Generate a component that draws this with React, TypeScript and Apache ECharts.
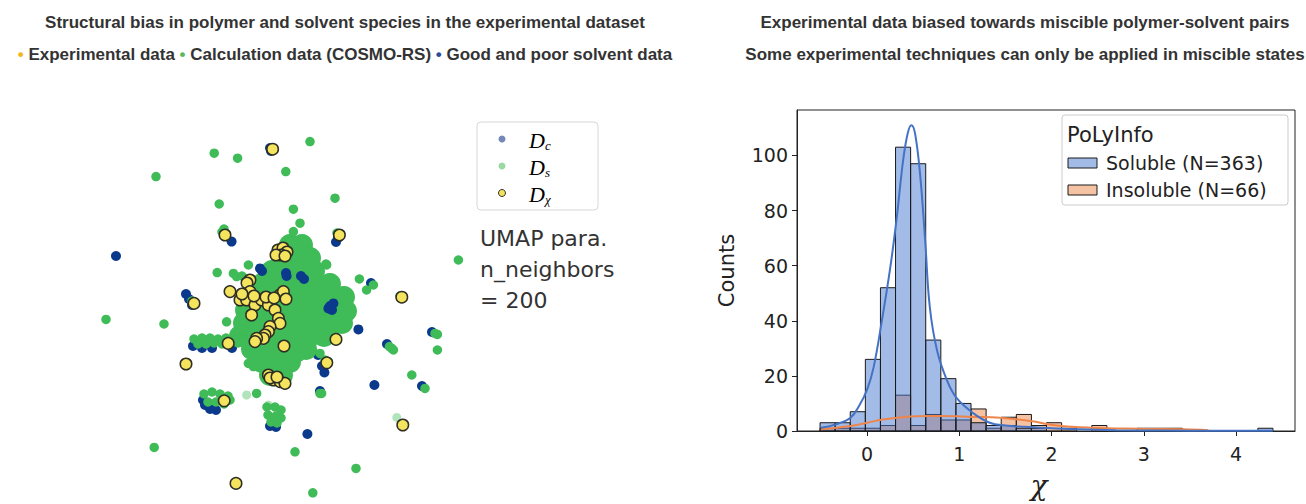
import React, { useEffect, useRef } from "react";
import * as echarts from "echarts";

// ---------------- Left panel: UMAP embedding (arbitrary units) ----------------
// D_c : good and poor solvent data (drawn behind)
const dcPoints: number[][] = [
  [-8.2, 2.2], [4.72, -4.25], [2.22, -3.62], [1.37, -6.7], [7.1, -4.3], [3.92, -1.47],
  [2.9, 3.1], [2.8, 2.9], [-4.7, 0.3], [-4.55, 0.05], [-4.4, -0.25], [-3.85, -5.0],
  [-3.75, -5.25], [-3.5, -5.45], [-3.2, -5.5], [-0.5, -6.3], [-0.2, -6.35], [-0.5, 7.6],
  [-0.45, 7.45], [3.35, -0.1], [3.45, -0.4], [1.5, -2.6], [1.9, -2.75], [7.6, -1.6],
  [5.35, -2.2], [2.0, -4.55], [4.55, 0.85], [2.17, -1.67], [2.1, -3.3], [-2.42, 2.92],
  [-4.35, -2.3], [-3.9, -2.4], [-3.4, -2.4], [-2.4, -2.4], [2.67, -1.0],
];
// D_c patches visible inside the dense region
const dcFrontPoints: number[][] = [
  [-1.0, 1.58], [-0.9, 1.45], [0.3, 1.35], [0.33, 1.2], [1.05, 1.2], [1.2, 1.05],
  [2.42, -0.42], [2.67, -0.17], [2.5, -0.3], [2.6, -0.5],
];
// D_s : dense core of COSMO-RS calculation data
const dsCorePoints: number[][] = [
  [0.5, 2.75], [1.1, 2.75],
  [0.1, 2.1], [0.8, 2.1], [1.5, 2.1],
  [-0.4, 1.45], [0.3, 1.45], [1.0, 1.45], [1.7, 1.45],
  [-0.9, 0.8], [-0.2, 0.8], [0.5, 0.8], [1.2, 0.8], [1.9, 0.8], [2.5, 0.8],
  [-1.5, 0.15], [-0.8, 0.15], [-0.1, 0.15], [0.6, 0.15], [1.3, 0.15], [2.0, 0.15], [2.7, 0.15], [3.2, 0.15],
  [-1.7, -0.5], [-1.0, -0.5], [-0.3, -0.5], [0.4, -0.5], [1.1, -0.5], [1.8, -0.5], [2.5, -0.5], [3.3, -0.55],
  [-1.8, -1.15], [-1.1, -1.15], [-0.4, -1.15], [0.3, -1.15], [1.0, -1.15], [1.7, -1.15], [2.4, -1.15], [3.1, -1.15],
  [-2.0, -1.8], [-1.3, -1.8], [-0.6, -1.8], [0.1, -1.8], [0.8, -1.8], [1.5, -1.8], [2.2, -1.8],
  [-1.4, -2.45], [-0.7, -2.45], [0.0, -2.45], [0.7, -2.45], [1.3, -2.45],
  [-0.9, -3.1], [-0.2, -3.1], [0.5, -3.1],
  [-0.5, -3.75], [0.1, -3.75],
];
// D_s : individual COSMO-RS points
const dsPoints: number[][] = [
  [1.5, 7.92], [-3.29, 7.34], [-2.12, 7.09], [-6.2, 6.17], [0.29, 6.42], [2.75, 5.09],
  [-3.04, 4.8], [0.67, 4.54], [1.0, 3.84], [8.92, 2.0], [-8.7, -0.97], [-5.8, -1.2],
  [-2.67, -1.09], [3.97, 1.05], [6.59, -3.75], [7.87, -2.5], [7.87, -1.72], [5.59, -2.42],
  [7.25, -4.42], [2.0, -4.67], [-6.29, -7.37], [0.75, -7.59], [3.8, -8.42], [1.64, -9.64],
  [-3.14, 1.37], [2.3, 1.8], [4.67, 0.75], [-1.17, -4.67], [0.67, 3.42],
  [-1.58, 1.75], [-2.17, 1.17], [-1.9, 1.2], [-2.33, 1.33], [2.33, 1.75], [2.75, 0.83],
  [1.33, -2.67], [1.0, -2.83], [2.0, -2.67], [2.42, -3.08], [0.67, -3.0], [-0.58, -2.92],
  [-1.33, -2.67], [-1.58, -3.17], [-1.33, -3.33], [0, -2.83], [-0.33, -3.17], [-2.83, -2.08],
  [4.33, 0.5], [5.47, -2.33], [5.67, -2.5], [2.08, -4.67], [7.75, -1.67],
  [-2.9, 3.4], [-2.8, 3.55], [-4.4, -0.05], [2.85, 3.35], [6.0, 0.2], [2.55, -1.8], [2.75, -1.75], [2.25, -3.0],
  [-3.8, -4.7], [-3.4, -4.6], [-3.0, -4.7], [-2.6, -4.8], [-3.6, -5.1], [-3.2, -5.1], [-2.8, -5.2], [-2.5, -5.0],
  [-0.65, -5.35], [-0.25, -5.35], [0.05, -5.5], [-0.6, -5.75], [-0.2, -5.8], [0.05, -5.9], [-0.45, -6.1], [-0.15, -6.15],
  [-4.3, -1.95], [-3.9, -1.9], [-3.5, -1.9], [-3.1, -1.95], [-2.7, -1.9], [-2.3, -1.95],
  [-4.1, -2.2], [-3.7, -2.2], [-3.3, -2.15], [-2.9, -2.2], [-2.5, -2.2], [-2.1, -2.15],
];
// D_s : sparse (faint) points
const dsLightPoints: number[][] = [
  [-1.67, -4.75], [-0.58, -5.25], [5.84, -5.87], [-1.83, -1.75],
];
// D_chi : experimental data
const dxPoints: number[][] = [
  [-0.37, 7.54], [-2.75, 3.25], [2.97, 3.25], [6.09, 0.14], [-4.3, -0.17], [-4.7, -3.2],
  [-2.79, -5.04], [6.14, -6.25], [-2.2, -9.17], [2.8, -1.97], [2.34, -3.14], [-2.59, -2.17], [0.2, -2.3],
  [-0.1, 2.5], [0.15, 2.6], [0.35, 2.4], [0.05, 2.25], [-0.2, 2.25], [0.25, 2.2],
  [-1.5, 1.0], [-1.65, 0.85],
  [-1.5, 0.42], [-2, 0], [-1.67, 0], [-1.25, -0.25], [-0.92, 0], [-0.58, -0.25], [-0.25, -0.5],
  [0, 0.25], [0.17, 0.42], [-0.08, -0.92], [0, -1.17], [-0.5, -1.33], [-0.58, -1.58], [-0.75, -1.75],
  [-0.83, -1.92], [-1.17, -1.92], [-1.25, -2.08], [-1.42, -0.75], [-2.5, 0.42], [-0.7, 0.15],
  [-0.3, 0.1], [0.3, 0.05], [-1.9, 0.3], [-1.3, 0.2],
  [-0.58, -3.75], [-0.33, -4.0], [0, -4.08], [0.25, -4.17], [-0.5, -3.9], [-0.15, -3.85],
];

// ---------------- Right panel: histogram of chi ----------------
const BIN_START = -0.51;
const BIN_WIDTH = 0.1637;
const solubleCounts = [3, 3, 7, 26, 52, 103, 97, 33, 19, 10, 3, 2, 2, 1, 1, 0, 0, 0, 0, 0, 0, 0, 0, 0, 0, 0, 0, 0, 0, 1];
const insolubleCounts = [1, 1, 1, 1, 2, 13, 2, 6, 4, 4, 8, 1, 5, 6, 2, 3, 1, 0, 2, 0, 0, 1, 1, 1, 0, 0, 0, 0, 0, 0];
const solubleKde: number[][] = [
  [-0.5, 1.2], [-0.35, 2.3], [-0.18, 4.8], [-0.08, 9.5], [0.0, 15], [0.07, 23], [0.16, 40],
  [0.25, 59], [0.32, 77], [0.39, 98], [0.44, 108], [0.48, 111], [0.52, 108], [0.575, 93],
  [0.63, 69], [0.68, 45], [0.76, 29], [0.865, 18.5], [0.97, 12], [1.15, 6.5], [1.33, 3],
  [1.5, 2], [1.7, 1.5], [2.0, 1.0], [2.3, 0.6], [2.7, 0.3], [3.2, 0.15], [3.8, 0.1], [4.4, 0.1],
];
const insolubleKde: number[][] = [
  [-0.5, 0.6], [-0.18, 1.8], [0, 3], [0.17, 4.2], [0.39, 5], [0.68, 5.4], [0.79, 5.4],
  [1.15, 5.1], [1.44, 4.8], [1.77, 3.6], [2.06, 2.0], [2.42, 1.2], [2.96, 0.8], [3.43, 0.6], [3.7, 0.3],
];
const xTicks = [0, 1, 2, 3, 4];
const yTicks = [0, 20, 40, 60, 80, 100];

const SOL_FILL = "rgba(72,120,208,0.5)";
const INS_FILL = "rgba(238,133,74,0.5)";
const SOL_LINE = "#4472c4";
const INS_LINE = "#ee854a";

const binData = (counts: number[]) =>
  counts
    .map((c, i) => [BIN_START + i * BIN_WIDTH, BIN_START + (i + 1) * BIN_WIDTH, c])
    .filter((d) => d[2] > 0);

const histRender = (fill: string) => (params: any, api: any) => {
  const p0 = api.coord([api.value(0), api.value(2)]);
  const p1 = api.coord([api.value(1), 0]);
  return {
    type: "rect",
    shape: { x: p0[0], y: p0[1], width: p1[0] - p0[0], height: p1[1] - p0[1] },
    style: { fill, stroke: "#1a1a1a", lineWidth: 1 },
  };
};

const TITLE_FONT = "'Liberation Sans', Arial, sans-serif";
const PLOT_FONT = "'DejaVu Sans', sans-serif";

export default function App() {
  const ref = useRef<HTMLDivElement>(null);
  useEffect(() => {
    document.body.style.margin = "0";
    const chart = echarts.init(ref.current!, null, { renderer: "svg" });
    const scatterBase = { type: "scatter", xAxisIndex: 0, yAxisIndex: 0, silent: true };
    const legendRich = {
      d: { fontFamily: "'Liberation Serif', serif", fontStyle: "italic", fontSize: 22, color: "#111" },
      s: { fontFamily: "'Liberation Serif', serif", fontStyle: "italic", fontSize: 13, color: "#111", padding: [10, 0, 0, 0] },
    };
    const bullet = (c: string) => ({ fill: c, fontSize: 17, fontWeight: "bold", fontFamily: TITLE_FONT });
    const option: any = {
      animation: false,
      backgroundColor: "#fff",
      grid: [
        { left: 80, top: 100, width: 400, height: 400 },
        { left: 797, top: 110, width: 498, height: 325, show: true, borderColor: "#222", borderWidth: 1 },
      ],
      xAxis: [
        { type: "value", gridIndex: 0, min: -10, max: 10, show: false },
        {
          type: "value", gridIndex: 1, min: -0.76, max: 4.64,
          axisLine: { show: true, onZero: false, lineStyle: { color: "#222" } },
          axisTick: { show: true, length: 5, lineStyle: { color: "#222" }, customValues: xTicks },
          axisLabel: { color: "#222", fontSize: 19, fontFamily: PLOT_FONT, margin: 13, customValues: xTicks },
          splitLine: { show: false },
          name: "χ", nameLocation: "middle", nameGap: 40,
          nameTextStyle: { fontFamily: "'DejaVu Serif', serif", fontStyle: "italic", fontSize: 28, color: "#222", padding: [0, 14, 0, 0] },
        },
      ],
      yAxis: [
        { type: "value", gridIndex: 0, min: -10, max: 10, show: false },
        {
          type: "value", gridIndex: 1, min: 0, max: 116.5,
          axisLine: { show: true, onZero: false, lineStyle: { color: "#222" } },
          axisTick: { show: true, length: 5, lineStyle: { color: "#222" }, customValues: yTicks },
          axisLabel: { color: "#222", fontSize: 19, fontFamily: PLOT_FONT, margin: 9, customValues: yTicks },
          splitLine: { show: false },
          name: "Counts", nameLocation: "middle", nameGap: 60, nameRotate: 90,
          nameTextStyle: { fontFamily: PLOT_FONT, fontSize: 21, color: "#222" },
        },
      ],
      series: [
        { ...scatterBase, name: "Dc", data: dcPoints, symbolSize: 10, itemStyle: { color: "#0b3a8d", opacity: 1 } },
        { ...scatterBase, name: "Ds core", data: dsCorePoints, symbolSize: 22, itemStyle: { color: "#3fbb58", opacity: 1 } },
        { ...scatterBase, name: "Ds", data: dsPoints, symbolSize: 9.5, itemStyle: { color: "#3fbb58", opacity: 1 } },
        { ...scatterBase, name: "Ds faint", data: dsLightPoints, symbolSize: 9, itemStyle: { color: "#3fbb58", opacity: 0.4 } },
        { ...scatterBase, name: "Dc front", data: dcFrontPoints, symbolSize: 10, itemStyle: { color: "#0b3a8d", opacity: 1 } },
        {
          ...scatterBase, name: "Dχ", data: dxPoints, symbolSize: 11.5,
          itemStyle: { color: "#f5e45e", borderColor: "#2e2e24", borderWidth: 1.5, opacity: 1 },
        },
        {
          type: "custom", name: "Insoluble", xAxisIndex: 1, yAxisIndex: 1, silent: true,
          data: binData(insolubleCounts), encode: { x: [0, 1], y: 2 }, renderItem: histRender(INS_FILL),
        },
        {
          type: "custom", name: "Soluble", xAxisIndex: 1, yAxisIndex: 1, silent: true,
          data: binData(solubleCounts), encode: { x: [0, 1], y: 2 }, renderItem: histRender(SOL_FILL),
        },
        {
          type: "line", name: "Insoluble KDE", xAxisIndex: 1, yAxisIndex: 1, data: insolubleKde,
          smooth: 0.4, showSymbol: false, silent: true, lineStyle: { color: INS_LINE, width: 2 }, z: 5,
        },
        {
          type: "line", name: "Soluble KDE", xAxisIndex: 1, yAxisIndex: 1, data: solubleKde,
          smooth: 0.4, showSymbol: false, silent: true, lineStyle: { color: SOL_LINE, width: 2 }, z: 5,
        },
      ],
      graphic: [
        // Titles
        {
          type: "text", x: 345, y: 22,
          style: {
            text: "Structural bias in polymer and solvent species in the experimental dataset",
            font: `bold 17px ${TITLE_FONT}`, fill: "#333", textAlign: "center", textVerticalAlign: "middle",
          },
        },
        {
          type: "text", x: 345, y: 54,
          style: {
            text: "{y|•} Experimental data {g|•} Calculation data (COSMO-RS) {b|•} Good and poor solvent data",
            font: `bold 17px ${TITLE_FONT}`, fill: "#333", textAlign: "center", textVerticalAlign: "middle",
            rich: { y: bullet("#f5b51c"), g: bullet("#5cb85c"), b: bullet("#2a4d9b") },
          },
        },
        {
          type: "text", x: 1025, y: 22,
          style: {
            text: "Experimental data biased towards miscible polymer-solvent pairs",
            font: `bold 17px ${TITLE_FONT}`, fill: "#333", textAlign: "center", textVerticalAlign: "middle",
          },
        },
        {
          type: "text", x: 1025, y: 54,
          style: {
            text: "Some experimental techniques can only be applied in miscible states",
            font: `bold 17px ${TITLE_FONT}`, fill: "#333", textAlign: "center", textVerticalAlign: "middle",
          },
        },
        // Left legend box
        {
          type: "rect", shape: { x: 477, y: 122, width: 121, height: 88, r: 4 },
          style: { fill: "#fff", stroke: "#d8d8d8", lineWidth: 1 }, z: 10,
        },
        { type: "circle", shape: { cx: 502, cy: 139, r: 3.5 }, style: { fill: "#7388b7" }, z: 11 },
        { type: "circle", shape: { cx: 502, cy: 166, r: 3.5 }, style: { fill: "#9ad9a3" }, z: 11 },
        { type: "circle", shape: { cx: 502, cy: 193, r: 3.5 }, style: { fill: "#f2e35c", stroke: "#333", lineWidth: 1 }, z: 11 },
        { type: "text", x: 529, y: 140, style: { text: "{d|D}{s|c}", rich: legendRich, textVerticalAlign: "middle" }, z: 11 },
        { type: "text", x: 529, y: 167, style: { text: "{d|D}{s|s}", rich: legendRich, textVerticalAlign: "middle" }, z: 11 },
        { type: "text", x: 529, y: 194, style: { text: "{d|D}{s|χ}", rich: legendRich, textVerticalAlign: "middle" }, z: 11 },
        // UMAP note
        {
          type: "text", x: 480, y: 238,
          style: { text: "UMAP para.", font: `22px ${PLOT_FONT}`, fill: "#333", textVerticalAlign: "middle" },
        },
        {
          type: "text", x: 480, y: 269,
          style: { text: "n_neighbors", font: `22px ${PLOT_FONT}`, fill: "#333", textVerticalAlign: "middle" },
        },
        {
          type: "text", x: 480, y: 300,
          style: { text: "= 200", font: `22px ${PLOT_FONT}`, fill: "#333", textVerticalAlign: "middle" },
        },
        // Histogram legend
        {
          type: "rect", shape: { x: 1062, y: 115, width: 226, height: 90, r: 3 },
          style: { fill: "rgba(255,255,255,0.85)", stroke: "#cccccc", lineWidth: 1 }, z: 10,
        },
        {
          type: "text", x: 1067, y: 135, z: 11,
          style: { text: "PoLyInfo", font: `21px ${PLOT_FONT}`, fill: "#222", textVerticalAlign: "middle" },
        },
        {
          type: "rect", shape: { x: 1068, y: 158, width: 29, height: 10 }, z: 11,
          style: { fill: SOL_FILL, stroke: "#1a1a1a", lineWidth: 1 },
        },
        {
          type: "text", x: 1106, y: 163, z: 11,
          style: { text: "Soluble (N=363)", font: `19px ${PLOT_FONT}`, fill: "#222", textVerticalAlign: "middle" },
        },
        {
          type: "rect", shape: { x: 1068, y: 185, width: 29, height: 10 }, z: 11,
          style: { fill: INS_FILL, stroke: "#1a1a1a", lineWidth: 1 },
        },
        {
          type: "text", x: 1106, y: 190, z: 11,
          style: { text: "Insoluble (N=66)", font: `19px ${PLOT_FONT}`, fill: "#222", textVerticalAlign: "middle" },
        },
      ],
    };
    chart.setOption(option);
    return () => chart.dispose();
  }, []);
  return <div ref={ref} style={{ width: 1306, height: 504 }} />;
}
